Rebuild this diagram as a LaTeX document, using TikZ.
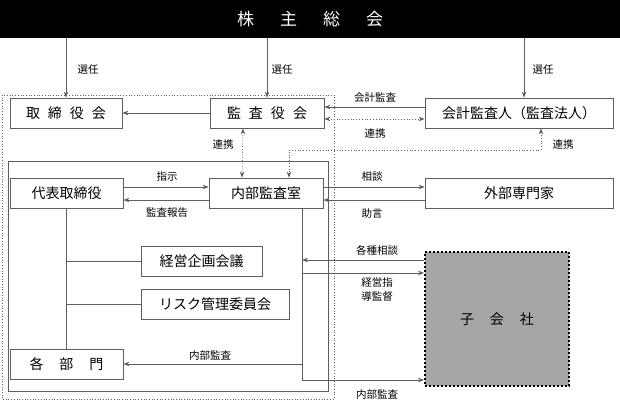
\documentclass[tikz,border=0pt]{standalone}
\usepackage{fontspec}
\newfontfamily\jp{Noto Sans CJK JP}
\usetikzlibrary{arrows.meta}
\definecolor{lc}{HTML}{5E5E5E}
\definecolor{subgray}{HTML}{A6A6A6}
\begin{document}
\begin{tikzpicture}[x=1pt,y=-1pt,
  ln/.style={draw=lc, line width=0.8pt},
  box/.style={ln, fill=white, minimum height=30pt, inner sep=0pt, font=\jp\fontsize{14}{16}\selectfont},
  lbl/.style={font=\jp\fontsize{10.5}{14}\selectfont, inner sep=0pt, align=center},
  arr/.style={ln, -{Stealth[length=6pt,width=4.5pt]}},
  darr/.style={ln, dotted, {Stealth[length=6pt,width=4.5pt]}-{Stealth[length=6pt,width=4.5pt]}},
]
\useasboundingbox (0,0) rectangle (620,401);

% frames
\draw[draw=lc, line width=0.7pt, dotted] (2,95) rectangle (334,399);
\draw[ln] (8,161) rectangle (328,391);

% top bar
\node[fill=black, minimum width=620pt, minimum height=38pt, inner sep=0pt, anchor=north west,
      text=white, font=\jp\fontsize{17}{20}\selectfont] (bar) at (0,0)
      {株\hspace{26pt}主\hspace{26pt}総\hspace{26pt}会};

% boxes
\node[box, minimum width=112pt] (tori) at (66,113) {取\hspace{8pt}締\hspace{8pt}役\hspace{8pt}会};
\node[box, minimum width=114pt] (kansa) at (267,113) {監\hspace{8pt}査\hspace{8pt}役\hspace{8pt}会};
\node[box, minimum width=188pt] (kaikei) at (519,113) {会計監査人（監査法人）};
\node[box, minimum width=113pt] (daihyo) at (66.5,193) {代表取締役};
\node[box, minimum width=114pt] (naibu) at (266,193) {内部監査室};
\node[box, minimum width=188pt] (gaibu) at (519,193) {外部専門家};
\node[box, minimum width=121pt] (keiei) at (201.5,261) {経営企画会議};
\node[box, minimum width=148pt] (risk) at (215,304) {リスク管理委員会};
\node[box, minimum width=113pt] (kakubu) at (66.5,364) {各\hspace{16pt}部\hspace{16pt}門};
\node[draw=black, line width=2pt, dotted, fill=subgray, minimum width=144pt, minimum height=134pt,
      inner sep=0pt, font=\jp\fontsize{14}{16}\selectfont] (ko) at (497,319)
      {子\hspace{16pt}会\hspace{16pt}社};

% helper coordinates
\coordinate (ka) at ([xshift=5pt]kaikei.north);
\coordinate (kc) at ([yshift=59pt]ko.west);
\coordinate (kd) at ([yshift=46pt]ko.west);

% election arrows
\draw[arr] (bar.south -| tori.north) -- (tori.north);
\draw[arr] (bar.south -| kansa.north) -- (kansa.north);
\draw[arr] (bar.south -| ka) -- (ka);
\node[lbl] (s1) at (88,70) {選任};
\node[lbl] (s2) at (282,70) {選任};
\node[lbl] (s3) at (543,70) {選任};

% upper row
\draw[arr] (kansa.west) -- (tori.east);
\draw[arr] ([yshift=6pt]kaikei.west) -- ([yshift=6pt]kansa.east);
\draw[darr] ([yshift=-6pt]kansa.east) -- ([yshift=-6pt]kaikei.west);
\node[lbl] (l1) at (375,98) {会計監査};
\node[lbl] (l2) at (375,134) {連携};

% vertical dotted links
\draw[darr] ([xshift=-24pt]kansa.south) -- ([xshift=-24pt]naibu.north);
\node[lbl] (l3) at (223,145) {連携};
\coordinate (c1) at (541,150);
\coordinate (c2) at (289,150);
\draw[darr] ([xshift=22pt]kaikei.south) -- (c1) -- (c2) -- (c2 |- naibu.north);
\node[lbl] (l4) at (563,145) {連携};

% middle row
\draw[arr] ([yshift=6pt]daihyo.east) -- ([yshift=6pt]naibu.west);
\draw[arr] ([yshift=-7pt]naibu.west) -- ([yshift=-7pt]daihyo.east);
\node[lbl] (l5) at (167,177) {指示};
\node[lbl] (l6) at (167,213) {監査報告};
\draw[arr] ([yshift=6pt]naibu.east) -- ([yshift=6pt]gaibu.west);
\draw[arr] ([yshift=-7pt]gaibu.west) -- ([yshift=-7pt]naibu.east);
\node[lbl] (l7) at (372,177) {相談};
\node[lbl] (l8) at (372,214) {助言};

% tree from 代表取締役
\draw[ln] (daihyo.south) -- (kakubu.north);
\draw[ln] (daihyo.south |- keiei.west) -- (keiei.west);
\draw[ln] (daihyo.south |- risk.west) -- (risk.west);

% internal audit line
\coordinate (v) at (302,380);
\draw[arr] ([xshift=36pt]naibu.south) -- (v) -- (v -| ko.west);
\draw[arr] (v |- kakubu.east) -- (kakubu.east);
\node[lbl] (l9) at (210,356) {内部監査};
\node[lbl] (l10) at (377,395) {内部監査};
\draw[arr] (kc) -- (v |- kc);
\draw[arr] (v |- kd) -- (kd);
\node[lbl] (l11) at (377,250) {各種相談};
\node[lbl] (l12) at (377,290) {経営指\\導監督};
\end{tikzpicture}
\end{document}
